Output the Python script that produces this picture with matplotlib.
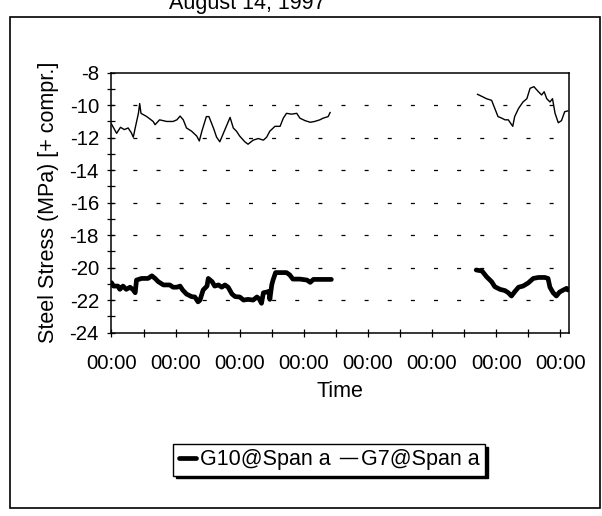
import numpy as np
import matplotlib
matplotlib.use('Agg')
import matplotlib.pyplot as plt
from matplotlib.patches import Rectangle
from matplotlib.ticker import MultipleLocator

plt.rcParams['font.family'] = 'sans-serif'
plt.rcParams['font.sans-serif'] = ['Liberation Sans', 'DejaVu Sans']

# time in tick intervals (each major tick labelled 00:00), NaN = gap in record
g7_x = [0.00, 0.08, 0.14, 0.20, 0.26, 0.31, 0.34, 0.37, 0.42, 0.44, 0.46, 0.55,
        0.65, 0.68, 0.75, 0.86, 0.96, 1.02, 1.07, 1.12, 1.17, 1.25, 1.33, 1.37,
        1.41, 1.48, 1.52, 1.59, 1.64, 1.69, 1.77, 1.85, 1.90, 1.95, 2.00, 2.08,
        2.13, 2.21, 2.29, 2.37, 2.42, 2.47, 2.55, 2.63, 2.68, 2.73, 2.81, 2.89,
        2.94, 3.02, 3.10, 3.17, 3.25, 3.30, 3.38, 3.41,
        np.nan,
        5.71, 5.80, 5.85, 5.93, 5.98, 6.03, 6.09, 6.14, 6.19, 6.26, 6.29, 6.35,
        6.42, 6.48, 6.53, 6.59, 6.66, 6.71, 6.75, 6.79, 6.84, 6.88, 6.92, 6.97,
        7.02, 7.07, 7.12]
g7_y = [-11.16, -11.73, -11.36, -11.50, -11.40, -11.70, -11.97, -11.40, -10.50, -9.90, -10.50, -10.70,
        -11.00, -11.20, -10.90, -11.00, -11.00, -10.90, -10.67, -10.90, -11.40, -11.60, -11.90, -12.20,
        -11.60, -10.70, -10.70, -11.40, -11.97, -12.25, -11.50, -10.75, -11.40, -11.60, -11.90, -12.25,
        -12.40, -12.15, -12.05, -12.15, -11.97, -11.60, -11.30, -11.30, -10.80, -10.50, -10.55, -10.50,
        -10.80, -10.95, -11.05, -11.00, -10.90, -10.80, -10.70, -10.45,
        np.nan,
        -9.33, -9.50, -9.60, -9.70, -10.20, -10.70, -10.80, -10.90, -10.90, -11.30, -10.70, -10.20,
        -9.80, -9.60, -8.96, -8.86, -9.17, -9.37, -9.17, -9.60, -9.80, -9.60, -10.50, -11.08,
        -10.95, -10.40, -10.35]

g10_x = [0.00, 0.03, 0.10, 0.13, 0.18, 0.23, 0.29, 0.34, 0.37, 0.39, 0.47, 0.57,
         0.63, 0.68, 0.73, 0.81, 0.91, 0.96, 1.02, 1.07, 1.11, 1.17, 1.25, 1.30,
         1.35, 1.38, 1.43, 1.49, 1.51, 1.57, 1.61, 1.67, 1.72, 1.77, 1.82, 1.88,
         1.93, 2.00, 2.06, 2.13, 2.21, 2.27, 2.31, 2.34, 2.37, 2.42, 2.46, 2.47,
         2.50, 2.52, 2.56, 2.63, 2.73, 2.78, 2.83, 2.94, 3.05, 3.10, 3.15, 3.25,
         3.36, 3.43,
         np.nan,
         5.69, 5.78, 5.85, 5.93, 5.98, 6.06, 6.14, 6.19, 6.24, 6.29, 6.35, 6.42,
         6.50, 6.58, 6.66, 6.76, 6.81, 6.84, 6.89, 6.94, 6.99, 7.05, 7.10, 7.12]
g10_y = [-20.92, -21.13, -21.13, -21.33, -21.13, -21.33, -21.20, -21.37, -21.54, -20.76, -20.66, -20.66,
         -20.50, -20.66, -20.86, -21.06, -21.06, -21.20, -21.20, -21.13, -21.37, -21.62, -21.78, -21.80,
         -22.10, -22.00, -21.37, -21.13, -20.66, -20.86, -21.13, -21.06, -21.20, -21.06, -21.20, -21.62,
         -21.78, -21.80, -21.99, -21.95, -21.99, -21.80, -21.95, -22.19, -21.54, -21.50, -21.45, -21.95,
         -21.06, -20.76, -20.30, -20.30, -20.30, -20.44, -20.70, -20.70, -20.76, -20.90, -20.72, -20.72,
         -20.72, -20.72,
         np.nan,
         -20.14, -20.20, -20.55, -20.86, -21.17, -21.33, -21.41, -21.54, -21.74, -21.48, -21.20, -21.13,
         -20.94, -20.66, -20.60, -20.60, -20.66, -21.20, -21.54, -21.74, -21.50, -21.37, -21.27, -21.37]

x_ticks = [0, 1, 2, 3, 4, 5, 6, 7]
x_labels = ['00:00'] * 8
y_ticks = [-24, -22, -20, -18, -16, -14, -12, -10, -8]

fig = plt.figure(figsize=(6.02, 5.16), dpi=100)
ax = fig.add_axes([0.1852, 0.3552, 0.7592, 0.5039])

for y in y_ticks[1:-1]:
    ax.axhline(y, color='k', lw=0.9, linestyle=(1, (3.2, 15.3)), zorder=1)

ax.plot(g10_x, g10_y, color='k', lw=3.4, solid_capstyle='round',
        solid_joinstyle='round', label='G10@Span a', zorder=3)
ax.plot(g7_x, g7_y, color='k', lw=1.0, label='G7@Span a', zorder=3)

ax.set_xlim(0, 7.13)
ax.set_ylim(-24, -8)
ax.set_xticks(x_ticks)
ax.set_xticklabels(x_labels)
ax.xaxis.set_minor_locator(MultipleLocator(0.5))
ax.set_yticks(y_ticks)
ax.set_yticklabels([str(v) for v in y_ticks])
ax.yaxis.set_minor_locator(MultipleLocator(1))
ax.tick_params(which='both', direction='inout', length=6, width=0.9,
               labelsize=14.7, colors='k')
ax.tick_params(axis='y', pad=6)
ax.tick_params(axis='x', pad=12)
for s in ax.spines.values():
    s.set_linewidth(1.1)

ax.set_xlabel('Time', fontsize=15.5, labelpad=6)
ax.set_ylabel('Steel Stress (MPa) [+ compr.]', fontsize=15.5, labelpad=8)

leg = fig.legend(loc='center', bbox_to_anchor=(0.547, 0.109), ncol=2,
                 fontsize=15.5, frameon=True, fancybox=False,
                 shadow={'color': 'black', 'alpha': 1, 'ox': 2, 'oy': -2},
                 handlelength=0.8, handletextpad=0.2, columnspacing=0.4,
                 borderpad=0.25, borderaxespad=0)
leg.get_frame().set_edgecolor('black')
leg.get_frame().set_linewidth(1.0)

fig.patches.append(Rectangle((10 / 602, 1 - 508 / 516), 590 / 602, 491 / 516,
                             transform=fig.transFigure, fill=False,
                             edgecolor='k', lw=1.2))
# page heading, cut off by the top edge as in the scan
fig.text(0.41, 1 - 9 / 516, 'August 14, 1997', fontsize=15.5,
         ha='center', va='baseline')

fig.savefig('out.png', dpi=100)
